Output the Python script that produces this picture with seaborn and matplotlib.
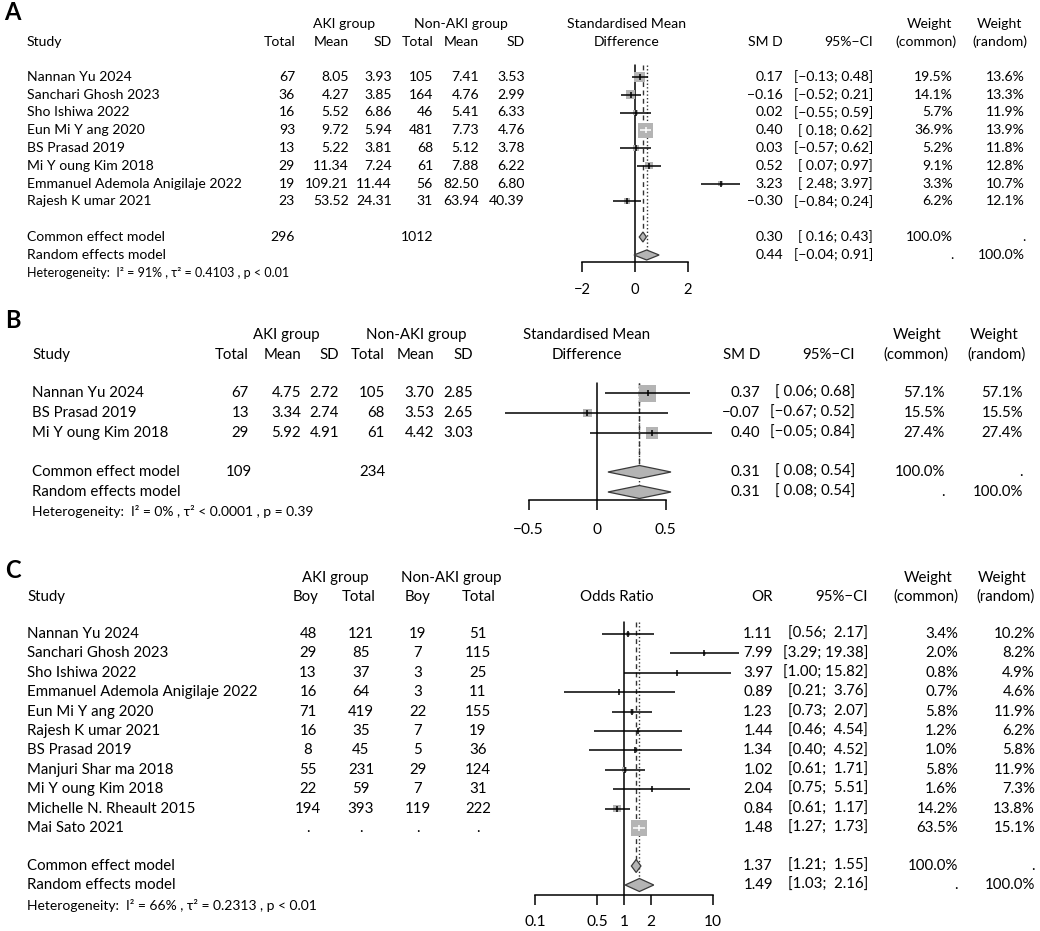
import numpy as np
import pandas as pd
import matplotlib
matplotlib.use("Agg")
import matplotlib.pyplot as plt
import seaborn as sns

# ---------------- Panel A data ----------------
a_studies = ["Nannan Yu 2024", "Sanchari Ghosh 2023", "Sho Ishiwa 2022", "Eun Mi Y ang 2020",
             "BS Prasad 2019", "Mi Y oung Kim 2018", "Emmanuel Ademola Anigilaje 2022", "Rajesh K umar 2021"]
a_aki_total = [67, 36, 16, 93, 13, 29, 19, 23]
a_aki_mean = [8.05, 4.27, 5.52, 9.72, 5.22, 11.34, 109.21, 53.52]
a_aki_sd = [3.93, 3.85, 6.86, 5.94, 3.81, 7.24, 11.44, 24.31]
a_non_total = [105, 164, 46, 481, 68, 61, 56, 31]
a_non_mean = [7.41, 4.76, 5.41, 7.73, 5.12, 7.88, 82.50, 63.94]
a_non_sd = [3.53, 2.99, 6.33, 4.76, 3.78, 6.22, 6.80, 40.39]
a_smd = [0.17, -0.16, 0.02, 0.40, 0.03, 0.52, 3.23, -0.30]
a_lo = [-0.13, -0.52, -0.55, 0.18, -0.57, 0.07, 2.48, -0.84]
a_hi = [0.48, 0.21, 0.59, 0.62, 0.62, 0.97, 3.97, 0.24]
a_wc = [19.5, 14.1, 5.7, 36.9, 5.2, 9.1, 3.3, 6.2]
a_wr = [13.6, 13.3, 11.9, 13.9, 11.8, 12.8, 10.7, 12.1]
a_common = [0.30, 0.16, 0.43]
a_random = [0.44, -0.04, 0.91]
a_totals = [296, 1012]
a_het = "Heterogeneity:  I² = 91% , τ² = 0.4103 , p < 0.01"
a_ticks = [-2, 0, 2]

# ---------------- Panel B data ----------------
b_studies = ["Nannan Yu 2024", "BS Prasad 2019", "Mi Y oung Kim 2018"]
b_aki_total = [67, 13, 29]
b_aki_mean = [4.75, 3.34, 5.92]
b_aki_sd = [2.72, 2.74, 4.91]
b_non_total = [105, 68, 61]
b_non_mean = [3.70, 3.53, 4.42]
b_non_sd = [2.85, 2.65, 3.03]
b_smd = [0.37, -0.07, 0.40]
b_lo = [0.06, -0.67, -0.05]
b_hi = [0.68, 0.52, 0.84]
b_wc = [57.1, 15.5, 27.4]
b_wr = [57.1, 15.5, 27.4]
b_common = [0.31, 0.08, 0.54]
b_random = [0.31, 0.08, 0.54]
b_totals = [109, 234]
b_het = "Heterogeneity:  I² = 0% , τ² < 0.0001 , p = 0.39"
b_ticks = [-0.5, 0, 0.5]

# ---------------- Panel C data ----------------
c_studies = ["Nannan Yu 2024", "Sanchari Ghosh 2023", "Sho Ishiwa 2022", "Emmanuel Ademola Anigilaje 2022",
             "Eun Mi Y ang 2020", "Rajesh K umar 2021", "BS Prasad 2019", "Manjuri Shar ma 2018",
             "Mi Y oung Kim 2018", "Michelle N. Rheault 2015", "Mai Sato 2021"]
c_aki_boy = ["48", "29", "13", "16", "71", "16", "8", "55", "22", "194", "."]
c_aki_total = ["121", "85", "37", "64", "419", "35", "45", "231", "59", "393", "."]
c_non_boy = ["19", "7", "3", "3", "22", "7", "5", "29", "7", "119", "."]
c_non_total = ["51", "115", "25", "11", "155", "19", "36", "124", "31", "222", "."]
c_or = [1.11, 7.99, 3.97, 0.89, 1.23, 1.44, 1.34, 1.02, 2.04, 0.84, 1.48]
c_lo = [0.56, 3.29, 1.00, 0.21, 0.73, 0.46, 0.40, 0.61, 0.75, 0.61, 1.27]
c_hi = [2.17, 19.38, 15.82, 3.76, 2.07, 4.54, 4.52, 1.71, 5.51, 1.17, 1.73]
c_wc = [3.4, 2.0, 0.8, 0.7, 5.8, 1.2, 1.0, 5.8, 1.6, 14.2, 63.5]
c_wr = [10.2, 8.2, 4.9, 4.6, 11.9, 6.2, 5.8, 11.9, 7.3, 13.8, 15.1]
c_common = [1.37, 1.21, 1.55]
c_random = [1.49, 1.03, 2.16]
c_het = "Heterogeneity:  I² = 66% , τ² = 0.2313 , p < 0.01"
c_ticks = [0.1, 0.5, 1, 2, 10]
c_ticklabels = ["0.1", "0.5", "1", "2", "10"]

# ---------------- setup ----------------
sns.set_theme(style="white")
plt.rcParams["font.family"] = ["Lato", "DejaVu Sans"]
plt.rcParams["axes.edgecolor"] = "black"
plt.rcParams["xtick.color"] = "black"
plt.rcParams["text.color"] = "black"

W, H = 1040, 931
fig = plt.figure(figsize=(W / 100, H / 100), dpi=100)
fig.patch.set_facecolor("white")
GRAY = "#b4b4b4"
EDGE = "#3a3a3a"


def T(x, y, s, ha="left", size=9.4, **kw):
    fig.text(x / W, 1 - y / H, s, ha=ha, va="center", fontsize=size, **kw)


def f2(v):
    return ("−" if v < 0 else "") + f"{abs(v):.2f}"


def ci_strings(los, his):
    ls = [f2(v) for v in los]
    hs = [f2(v) for v in his]
    wl = max(len(s) for s in ls)
    wh = max(len(s) for s in hs)
    return [f"[{l.rjust(wl)}; {h.rjust(wh)}]" for l, h in zip(ls, hs)]


def pct(v):
    return f"{v:.1f}%"


def forest(px0, px1, ytop, yaxis, to_val, ticks, ticklabels, est, lo, hi, wc, ys,
           pooled, ys_pooled, dh, smax_px, fs, pad, ref=0.0, log=False):
    ax = fig.add_axes([px0 / W, 1 - yaxis / H, (px1 - px0) / W, (yaxis - (ytop - 6)) / H])
    ax.patch.set_alpha(0)
    if log:
        ax.set_xscale("log")
    xlim = (to_val(px0), to_val(px1))
    ylim = (yaxis, ytop - 6)
    ax.set_xlim(*xlim)
    ax.set_ylim(*ylim)
    # reference (null) line
    ax.plot([ref, ref], [ytop, yaxis], color="black", lw=1.1, zorder=1)
    # pooled reference lines
    ax.plot([pooled[0][0]] * 2, [ytop, ys_pooled[0] - dh], color="#333333", lw=1.0,
            ls=(0, (3.5, 2.5)), zorder=1)
    ax.plot([pooled[1][0]] * 2, [ytop, ys_pooled[1] - dh], color="#333333", lw=1.0,
            ls=(0, (1, 1.6)), zorder=1)
    df = pd.DataFrame({"est": est, "y": ys, "w": wc})
    smax_pt = smax_px * 72 / 100
    sns.scatterplot(data=df, x="est", y="y", size="w", sizes=(0, smax_pt ** 2),
                    size_norm=(0, max(wc)), marker="s", color=GRAY, linewidth=0,
                    legend=False, ax=ax, zorder=2)
    ax.set_xlim(*xlim)
    ax.set_ylim(*ylim)
    wmax = max(wc)
    for e, l, h, w, y in zip(est, lo, hi, wc, ys):
        side = smax_px * np.sqrt(w / wmax)
        pl = ax.transData.transform((l, y))[0]
        ph = ax.transData.transform((h, y))[0]
        inside = (ph - pl) <= side
        col = "white" if inside else "black"
        ax.hlines(y, l, h, color=col, lw=1.1, zorder=3)
        ax.plot([e], [y], marker="|", ms=4, mew=1.1, color=col, zorder=3)
    for (e, l, h), y in zip(pooled, ys_pooled):
        ax.fill([l, e, h, e], [y, y - dh, y, y + dh], facecolor=GRAY, edgecolor=EDGE,
                lw=0.9, zorder=4)
    for s in ["top", "left", "right"]:
        ax.spines[s].set_visible(False)
    ax.spines["bottom"].set_bounds(ticks[0], ticks[-1])
    ax.spines["bottom"].set_linewidth(1.1)
    ax.set_xticks(ticks)
    ax.set_xticklabels(ticklabels)
    if log:
        ax.minorticks_off()
    ax.set_yticks([])
    ax.set_xlabel("")
    ax.set_ylabel("")
    ax.tick_params(axis="x", direction="out", length=7.2, width=1.1, pad=pad,
                   labelsize=fs, bottom=True)
    return ax


# ================= Panel A =================
fs = 10.1
T(4, 13, "A", size=17, fontweight="bold")
for x, s in [(344, "AKI group"), (461, "Non-AKI group"), (627, "Standardised Mean"),
             (929, "Weight"), (999, "Weight")]:
    T(x, 24, s, "center", fs)
T(27, 42, "Study", size=fs)
colsA = [295, 349, 392, 433, 479, 525]
for x, s in zip(colsA, ["Total", "Mean", "SD", "Total", "Mean", "SD"]):
    T(x, 42, s, "right", fs)
T(627, 42, "Difference", "center", fs)
T(783, 42, "SM D", "right", fs)
T(873, 42, "95%−CI", "right", fs)
T(957, 42, "(common)", "right", fs)
T(1027, 42, "(random)", "right", fs)

yA = [77 + 17.75 * i for i in range(len(a_studies))]
ciA = ci_strings(a_lo + [a_common[1], a_random[1]], a_hi + [a_common[2], a_random[2]])
for i, y in enumerate(yA):
    T(27, y, a_studies[i], size=fs)
    vals = [str(a_aki_total[i]), f2(a_aki_mean[i]), f2(a_aki_sd[i]), str(a_non_total[i]),
            f2(a_non_mean[i]), f2(a_non_sd[i])]
    for x, s in zip(colsA, vals):
        T(x, y, s, "right", fs)
    T(783, y, f2(a_smd[i]), "right", fs)
    T(873, y, ciA[i], "right", fs)
    T(953, y, pct(a_wc[i]), "right", fs)
    T(1025, y, pct(a_wr[i]), "right", fs)
ycA, yrA = 237, 255
T(27, ycA, "Common effect model", size=fs)
T(295, ycA, str(a_totals[0]), "right", fs)
T(433, ycA, str(a_totals[1]), "right", fs)
T(783, ycA, f2(a_common[0]), "right", fs)
T(873, ycA, ciA[-2], "right", fs)
T(953, ycA, "100.0%", "right", fs)
T(1025, ycA, ".", "right", fs)
T(27, yrA, "Random effects model", size=fs)
T(783, yrA, f2(a_random[0]), "right", fs)
T(873, yrA, ciA[-1], "right", fs)
T(953, yrA, ".", "right", fs)
T(1025, yrA, "100.0%", "right", fs)
T(27, 273, a_het, size=9.0)

forest(530, 760, 65, 262, lambda px: (px - 635) / 26.5, a_ticks, ["−2", "0", "2"],
       a_smd, a_lo, a_hi, a_wc, yA, [a_common, a_random], [ycA, yrA], 5, 15, 10.6, 8)

# ================= Panel B =================
fs = 10.8
T(5, 321, "B", size=17, fontweight="bold")
for x, s in [(286, "AKI group"), (416, "Non-AKI group"), (587, "Standardised Mean"),
             (917, "Weight"), (994, "Weight")]:
    T(x, 335, s, "center", fs)
T(32, 355, "Study", size=fs)
colsB = [249, 301, 339, 385, 434, 473]
for x, s in zip(colsB, ["Total", "Mean", "SD", "Total", "Mean", "SD"]):
    T(x, 355, s, "right", fs)
T(587, 355, "Difference", "center", fs)
T(760, 355, "SM D", "right", fs)
T(855, 355, "95%−CI", "right", fs)
T(948, 355, "(common)", "right", fs)
T(1026, 355, "(random)", "right", fs)

yB = [393 + 20 * i for i in range(len(b_studies))]
ciB = ci_strings(b_lo + [b_common[1], b_random[1]], b_hi + [b_common[2], b_random[2]])
for i, y in enumerate(yB):
    T(32, y, b_studies[i], size=fs)
    vals = [str(b_aki_total[i]), f2(b_aki_mean[i]), f2(b_aki_sd[i]), str(b_non_total[i]),
            f2(b_non_mean[i]), f2(b_non_sd[i])]
    for x, s in zip(colsB, vals):
        T(x, y, s, "right", fs)
    T(760, y, f2(b_smd[i]), "right", fs)
    T(855, y, ciB[i], "right", fs)
    T(945, y, pct(b_wc[i]), "right", fs)
    T(1023, y, pct(b_wr[i]), "right", fs)
ycB, yrB = 472, 492
T(32, ycB, "Common effect model", size=fs)
T(252, ycB, str(b_totals[0]), "right", fs)
T(385, ycB, str(b_totals[1]), "right", fs)
T(760, ycB, f2(b_common[0]), "right", fs)
T(855, ycB, ciB[-2], "right", fs)
T(945, ycB, "100.0%", "right", fs)
T(1023, ycB, ".", "right", fs)
T(32, yrB, "Random effects model", size=fs)
T(760, yrB, f2(b_random[0]), "right", fs)
T(855, yrB, ciB[-1], "right", fs)
T(945, yrB, ".", "right", fs)
T(1023, yrB, "100.0%", "right", fs)
T(32, 512, b_het, size=10.0)

forest(490, 730, 383, 500, lambda px: (px - 597) / 137, b_ticks, ["−0.5", "0", "0.5"],
       b_smd, b_lo, b_hi, b_wc, yB, [b_common, b_random], [ycB, yrB], 6.5, 17, 11.2, 9)

# ================= Panel C =================
fs = 10.8
T(5, 571, "C", size=17, fontweight="bold")
for x, s in [(335, "AKI group"), (451, "Non-AKI group"), (928, "Weight"), (1002, "Weight")]:
    T(x, 578, s, "center", fs)
T(27, 597, "Study", size=fs)
colsC = [306, 359, 418, 479]
for x, s in zip(colsC, ["Boy", "Total", "Boy", "Total"]):
    T(x, 597, s, "center", fs)
T(617, 597, "Odds Ratio", "center", fs)
T(773, 597, "OR", "right", fs)
T(868, 597, "95%−CI", "right", fs)
T(958, 597, "(common)", "right", fs)
T(1035, 597, "(random)", "right", fs)

yC = [634 + 19.4 * i for i in range(len(c_studies))]
ciC = ci_strings(c_lo + [c_common[1], c_random[1]], c_hi + [c_common[2], c_random[2]])
for i, y in enumerate(yC):
    T(27, y, c_studies[i], size=fs)
    for x, s in zip([308, 361, 418, 478], [c_aki_boy[i], c_aki_total[i], c_non_boy[i], c_non_total[i]]):
        T(x, y, s, "center", fs)
    T(773, y, f2(c_or[i]), "right", fs)
    T(868, y, ciC[i], "right", fs)
    T(958, y, pct(c_wc[i]), "right", fs)
    T(1035, y, pct(c_wr[i]), "right", fs)
ycC, yrC = 866, 885
T(27, ycC, "Common effect model", size=fs)
T(773, ycC, f2(c_common[0]), "right", fs)
T(868, ycC, ciC[-2], "right", fs)
T(958, ycC, "100.0%", "right", fs)
T(1035, ycC, ".", "right", fs)
T(27, yrC, "Random effects model", size=fs)
T(773, yrC, f2(c_random[0]), "right", fs)
T(868, yrC, ciC[-1], "right", fs)
T(958, yrC, ".", "right", fs)
T(1035, yrC, "100.0%", "right", fs)
T(27, 905, c_het, size=10.0)

forest(520, 750, 622, 895, lambda px: 10 ** ((px - 624) / 89), c_ticks, c_ticklabels,
       c_or, c_lo, c_hi, c_wc, yC, [c_common, c_random], [ycC, yrC], 6.5, 16, 11.2, 7,
       ref=1.0, log=True)

fig.savefig("out.png", dpi=100, facecolor="white")
